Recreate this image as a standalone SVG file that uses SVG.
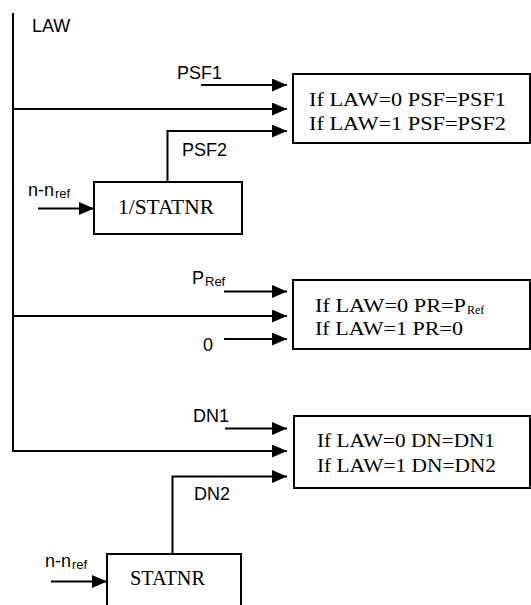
<svg xmlns="http://www.w3.org/2000/svg" width="531" height="605" viewBox="0 0 531 605">
<style>
.ln{fill:none;stroke:#000;stroke-width:2}
.bx{fill:#fff;stroke:#000;stroke-width:2}
.sans{font-family:"Liberation Sans",Arial,sans-serif;font-size:18px;fill:#000}
.sub{font-family:"Liberation Sans",Arial,sans-serif;font-size:13px;fill:#000}
.ser{font-family:"Liberation Serif","Times New Roman",serif;font-size:19px;fill:#000}
.ser2{font-family:"Liberation Serif","Times New Roman",serif;font-size:21px;fill:#000}
.sersub{font-family:"Liberation Serif","Times New Roman",serif;font-size:12px;fill:#000}
</style>
<defs>
<marker id="ah" markerUnits="userSpaceOnUse" markerWidth="15" markerHeight="13" refX="15" refY="6.5" orient="auto">
<path d="M0,0 L15,6.5 L0,13 Z" fill="#000"/>
</marker>
</defs>
<g id="connectors">
<path class="ln" d="M13,13 V451 H287" marker-end="url(#ah)"/>
<path class="ln" d="M13,109 H287" marker-end="url(#ah)"/>
<path class="ln" d="M13,316 H287" marker-end="url(#ah)"/>
<path class="ln" d="M201,85 H287" marker-end="url(#ah)"/>
<path class="ln" d="M167.5,182 V131 H287" marker-end="url(#ah)"/>
<path class="ln" d="M38,208.5 H94" marker-end="url(#ah)"/>
<path class="ln" d="M224,291.5 H287" marker-end="url(#ah)"/>
<path class="ln" d="M224,339 H287" marker-end="url(#ah)"/>
<path class="ln" d="M225,428.5 H287" marker-end="url(#ah)"/>
<path class="ln" d="M172.5,553 V476.5 H287" marker-end="url(#ah)"/>
<path class="ln" d="M51,581.5 H107" marker-end="url(#ah)"/>
</g>
<g id="labels">
<text class="sans" x="32" y="32">LAW</text>
<text class="sans" x="177" y="79">PSF1</text>
<text class="sans" x="182" y="156">PSF2</text>
<text class="sans" x="28" y="196">n-n</text><text class="sub" x="55" y="198">ref</text>
<text class="sans" x="192" y="284">P</text><text class="sub" x="205" y="286">Ref</text>
<text class="sans" x="203" y="351">0</text>
<text class="sans" x="193" y="422">DN1</text>
<text class="sans" x="194" y="500">DN2</text>
<text class="sans" x="45" y="567">n-n</text><text class="sub" x="72" y="569">ref</text>
</g>
<g id="box-psf">
<rect class="bx" x="293" y="74" width="237" height="69"/>
<text class="ser" x="309" y="105.5" textLength="197" lengthAdjust="spacingAndGlyphs">If LAW=0 PSF=PSF1</text>
<text class="ser" x="309" y="130" textLength="197" lengthAdjust="spacingAndGlyphs">If LAW=1 PSF=PSF2</text>
</g>
<g id="box-statnr-inv">
<rect class="bx" x="94" y="182" width="148" height="52"/>
<text class="ser2" x="118" y="213.5" textLength="96" lengthAdjust="spacingAndGlyphs">1/STATNR</text>
</g>
<g id="box-pr">
<rect class="bx" x="293" y="280" width="237" height="69"/>
<text class="ser" x="315" y="311.5" textLength="151" lengthAdjust="spacingAndGlyphs">If LAW=0 PR=P</text><text class="sersub" x="467" y="313.5">Ref</text>
<text class="ser" x="315" y="334.5" textLength="148" lengthAdjust="spacingAndGlyphs">If LAW=1 PR=0</text>
</g>
<g id="box-dn">
<rect class="bx" x="294" y="416" width="236" height="72"/>
<text class="ser" x="317" y="446.5" textLength="178" lengthAdjust="spacingAndGlyphs">If LAW=0 DN=DN1</text>
<text class="ser" x="317" y="471.5" textLength="179" lengthAdjust="spacingAndGlyphs">If LAW=1 DN=DN2</text>
</g>
<g id="box-statnr">
<rect class="bx" x="107" y="554" width="134" height="60"/>
<text class="ser2" x="130" y="585" textLength="75" lengthAdjust="spacingAndGlyphs">STATNR</text>
</g>
</svg>
